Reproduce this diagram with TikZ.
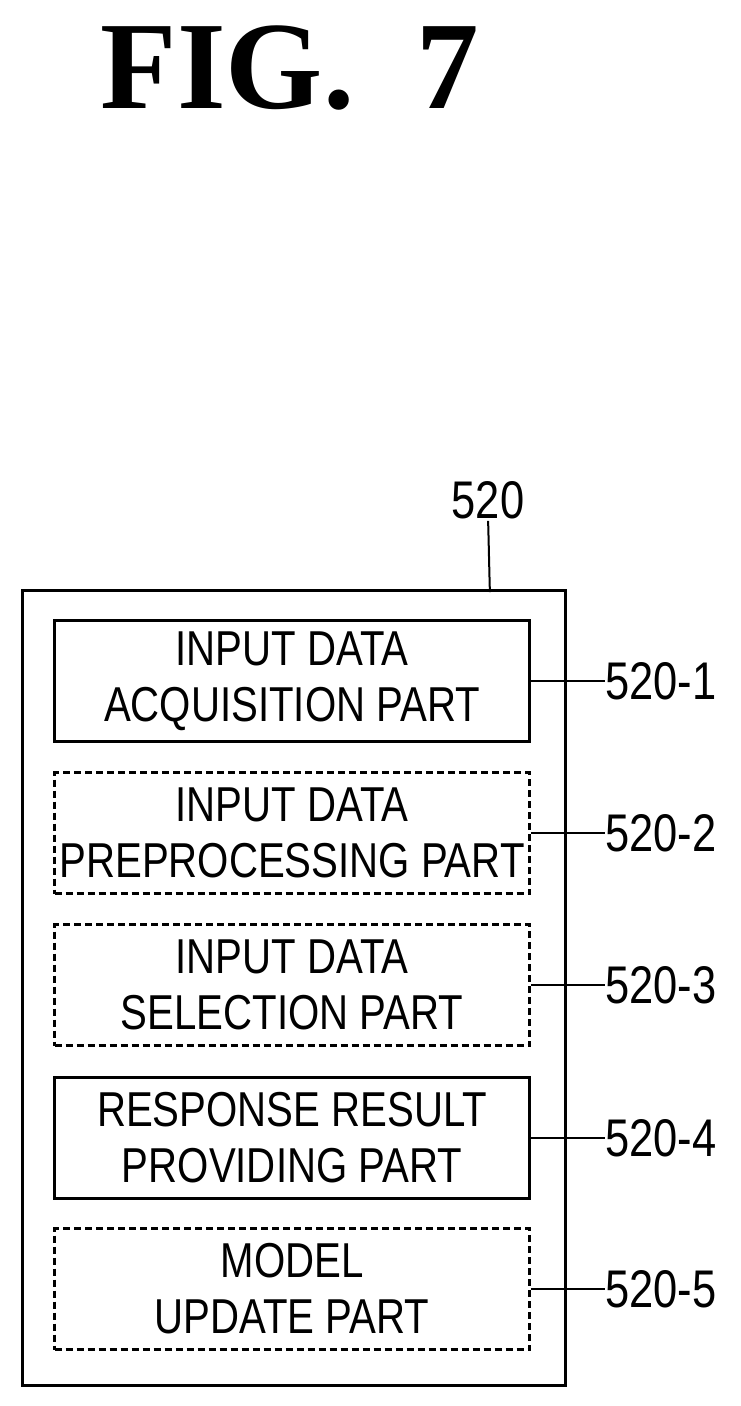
\documentclass[tikz,border=0pt]{standalone}
\usepackage{fontspec}
\setmainfont{Liberation Serif}
\newfontfamily\lab[FakeStretch=0.82]{Liberation Sans}
\begin{document}
\begin{tikzpicture}[x=1pt,y=-1pt,
  blk/.style={draw,line width=3pt,minimum width=475pt,minimum height=121pt,inner sep=0pt,align=center,font=\lab\fontsize{49}{56}\selectfont},
  dsh/.style={blk,dash pattern=on 7pt off 4pt},
  num/.style={font=\lab\fontsize{53}{56}\selectfont,anchor=west,inner sep=0pt},
  lead/.style={line width=2pt}]
\useasboundingbox (0,0) rectangle (740,1406);
\node[font=\bfseries\fontsize{125}{130}\selectfont] (t) at (290,68) {FIG.\ \ 7};
\draw[line width=3pt] (22,590) rectangle (565,1385);
\coordinate (top) at (490,590);
\node[num,anchor=center] (n520) at (488,500) {520};
\draw[lead] ([yshift=-4pt]n520.south) .. controls +(0,-18) and +(0,18) .. (top);
\node[blk] (b1) at (292,681) {INPUT DATA\\ACQUISITION PART};
\node[dsh] (b2) at (292,833) {INPUT DATA\\PREPROCESSING PART};
\node[dsh] (b3) at (292,985) {INPUT DATA\\SELECTION PART};
\node[blk] (b4) at (292,1138) {RESPONSE RESULT\\PROVIDING PART};
\node[dsh] (b5) at (292,1289) {MODEL\\UPDATE PART};
\foreach \i/\y in {1/681,2/833,3/985,4/1138,5/1289}{
  \node[num] (l\i) at (605,\y) {520-\i};
  \draw[lead] (b\i.east) .. controls +(30,0) and +(-30,0) .. (l\i.west);
}
\end{tikzpicture}
\end{document}
